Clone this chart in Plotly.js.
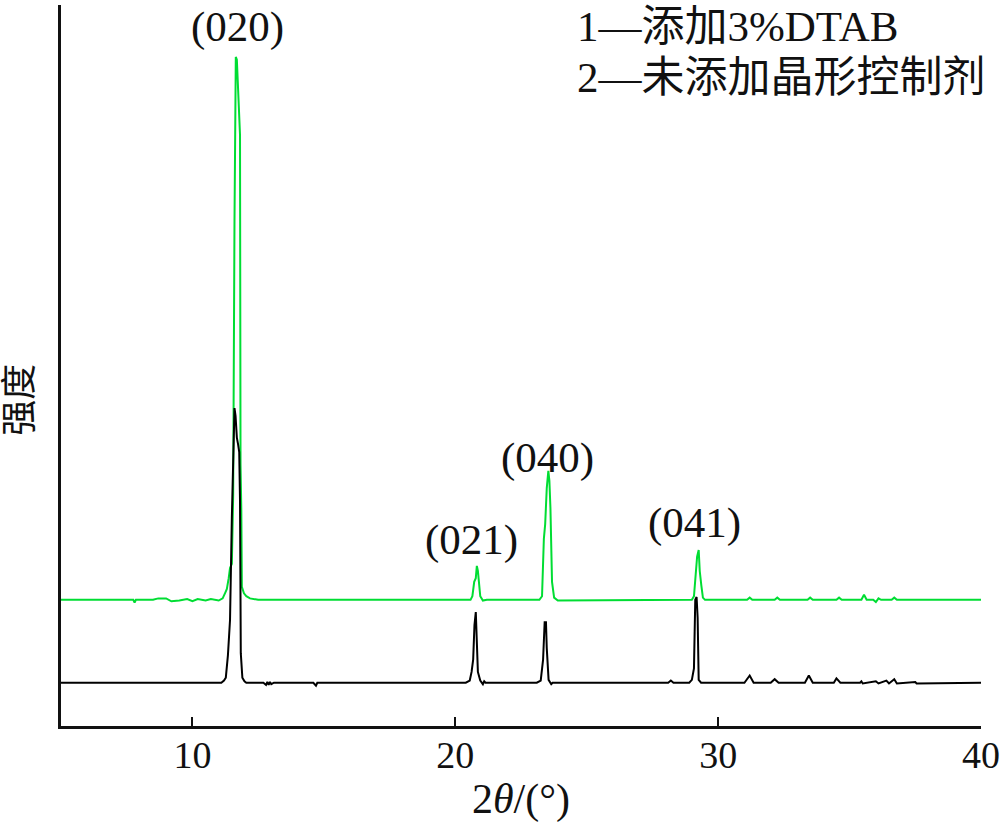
<!DOCTYPE html>
<html>
<head>
<meta charset="utf-8">
<script src="https://cdn.plot.ly/plotly-3.0.1.min.js"></script>
<style>html,body{margin:0;padding:0;background:#fff;}#chart{width:1000px;height:833px;}</style>
</head>
<body>
<div id="chart"></div>
<script>
// Curve 1: with 3% DTAB (vertically offset in the original figure)
const twoTheta1 = [5.0, 7.0, 7.75, 7.8, 7.85, 8.5, 8.7, 9.0, 9.2, 9.5, 9.8, 10.0, 10.2, 10.5, 10.7, 11.0, 11.15, 11.25, 11.31, 11.38, 11.43, 11.50, 11.55, 11.60, 11.65, 11.69, 11.73, 11.78, 11.81, 11.83, 11.86, 11.88, 11.96, 12.05, 12.19, 12.5,
  20.5, 20.58, 20.65, 20.72, 20.78, 20.82, 20.86, 20.90, 20.95, 21.05, 21.2,
  23.2, 23.30, 23.37, 23.42, 23.48, 23.54, 23.58, 23.62, 23.68, 23.76, 23.9,
  29.0, 29.08, 29.13, 29.20, 29.26, 29.30, 29.36, 29.42, 29.5,
  31.1, 31.2, 31.3, 32.15, 32.25, 32.35, 33.4, 33.5, 33.6, 34.5, 34.6, 34.7, 35.45, 35.55, 35.65, 35.9, 36.0, 36.1, 36.2, 36.6, 36.7, 36.8, 40.0];
const intensity1 = [175, 175, 175, 171, 175, 175, 177, 177, 173, 174, 176, 173, 176, 174, 176, 174, 177, 185, 190, 205, 219, 225, 320, 700, 928, 924, 880, 822, 820, 362, 300, 193, 184, 180, 177, 175,
  175, 175, 180, 200, 205, 222, 215, 200, 180, 174, 175,
  175, 180, 260, 280, 330, 354, 340, 302, 200, 178, 174,
  175, 180, 200, 235, 244, 215, 195, 178, 175,
  175, 178, 175, 175, 178, 175, 175, 178, 175, 175, 178, 175, 175, 182, 175, 175, 172, 177, 175, 175, 178, 175, 175];

// Curve 2: without crystal-form control agent
const twoTheta2 = [5.0, 11.1, 11.2, 11.27, 11.35, 11.43, 11.50, 11.55, 11.60, 11.64, 11.69, 11.74, 11.78, 11.81, 11.84, 11.90, 11.98, 12.05,
  12.7, 12.8, 12.85, 12.9, 12.95, 13.0, 13.1, 14.6, 14.7, 14.75,
  20.4, 20.55, 20.62, 20.68, 20.73, 20.78, 20.82, 20.86, 20.95, 21.05, 21.1, 21.15,
  23.1, 23.25, 23.34, 23.40, 23.45, 23.48, 23.55, 23.65, 23.7,
  28.1, 28.2, 28.3, 28.9, 29.0, 29.08, 29.13, 29.18, 29.22, 29.26, 29.35,
  31.0, 31.2, 31.35, 32.0, 32.15, 32.3, 33.3, 33.45, 33.6, 34.4, 34.5, 34.65, 35.4, 35.45, 35.5, 36.0, 36.1, 36.4, 36.5, 36.7, 36.8, 37.5, 37.55, 40.0];
const intensity2 = [60, 60, 63, 67, 98, 147, 290, 355, 441, 430, 400, 390, 380, 313, 101, 67, 62, 60,
  60, 57, 61, 57, 61, 58, 60, 60, 56, 60,
  60, 63, 75, 92, 140, 158, 125, 75, 63, 58, 62, 60,
  60, 63, 92, 144, 144, 108, 64, 58, 60,
  60, 63, 60, 60, 64, 80, 175, 179, 150, 64, 60,
  60, 70, 60, 60, 65, 60, 60, 70, 60, 60, 66, 60, 60, 62, 59, 62, 59, 63, 59, 65, 59, 61, 59, 60];

const peakLabels = ['(020)', '(021)', '(040)', '(041)'];
const peakLabelX = [11.73, 20.63, 23.52, 29.1];
const peakLabelY = [970, 258, 372, 282];
const curveNames = ['1', '2'];
const legendLines = ['1—添加3%DTAB', '2—未添加晶形控制剂'];
const xTicks = [10, 20, 30, 40];
const yTitle = '强度';
const xTitle = '2<i>θ</i>/(°)';

const FONT = 'Liberation Serif, Times New Roman, Noto Sans CJK SC, serif';

const traces = [
  {x: twoTheta1, y: intensity1, mode: 'lines', line: {color: '#00dd33', width: 2}, name: legendLines[0], hoverinfo: 'x+y'},
  {x: twoTheta2, y: intensity2, mode: 'lines', line: {color: '#000000', width: 2}, name: legendLines[1], hoverinfo: 'x+y'}
];

const annotations = [];
peakLabels.forEach((t, i) => annotations.push({
  x: peakLabelX[i], y: peakLabelY[i], xref: 'x', yref: 'y', text: t, showarrow: false,
  xanchor: 'center', yanchor: 'middle', font: {family: FONT, size: 43, color: '#111'}
}));
// curve number labels at the right end
annotations.push({x: 40.06, y: 214, xref: 'x', yref: 'y', text: curveNames[0], showarrow: false, xanchor: 'center', yanchor: 'middle', font: {family: FONT, size: 42, color: '#111'}});
annotations.push({x: 40.06, y: 85, xref: 'x', yref: 'y', text: curveNames[1], showarrow: false, xanchor: 'center', yanchor: 'middle', font: {family: FONT, size: 42, color: '#111'}});
// legend text block
annotations.push({x: 24.54, y: 970, xref: 'x', yref: 'y', text: legendLines[0], showarrow: false, xanchor: 'left', yanchor: 'middle', font: {family: FONT, size: 43, color: '#111'}});
annotations.push({x: 24.54, y: 900, xref: 'x', yref: 'y', text: legendLines[1], showarrow: false, xanchor: 'left', yanchor: 'middle', font: {family: FONT, size: 43, color: '#111'}});
// y-axis title (placed as in the original, slightly below axis middle)
annotations.push({x: -0.044, y: 0.452, xref: 'paper', yref: 'paper', text: yTitle, textangle: -90, showarrow: false,
  xanchor: 'center', yanchor: 'middle', font: {family: FONT, size: 36, color: '#111'}});

const layout = {
  width: 1000, height: 833,
  margin: {l: 61, r: 19, t: 5, b: 107},
  paper_bgcolor: '#ffffff', plot_bgcolor: '#ffffff',
  showlegend: false,
  xaxis: {
    range: [5, 40], tickvals: xTicks, ticktext: xTicks.map(String),
    ticks: 'inside', ticklen: 9, tickwidth: 2, tickcolor: '#111',
    ticklabelstandoff: -7, ticklabeloverflow: 'allow',
    showline: true, linewidth: 3, linecolor: '#111', mirror: false,
    showgrid: false, zeroline: false,
    tickfont: {family: FONT, size: 38, color: '#111'},
    title: {text: xTitle, font: {family: FONT, size: 42, color: '#111'}, standoff: 6}
  },
  yaxis: {
    range: [0, 1000], showticklabels: false, ticks: '',
    showline: true, linewidth: 3, linecolor: '#111',
    showgrid: false, zeroline: false
  },
  annotations: annotations
};

Plotly.newPlot('chart', traces, layout, {staticPlot: true});
</script>
</body>
</html>
